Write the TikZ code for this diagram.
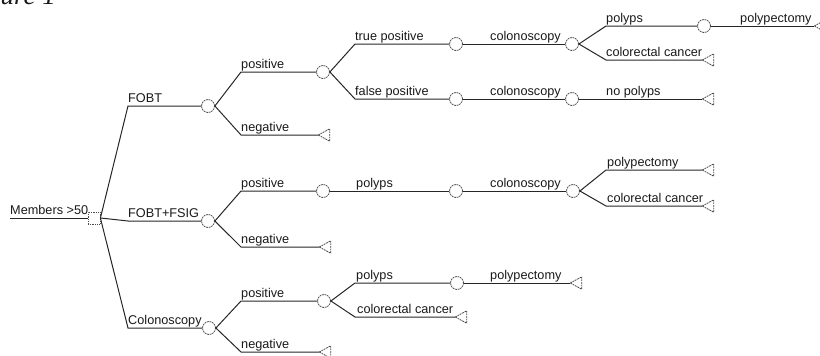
\documentclass[tikz,border=0pt]{standalone}
\usepackage{fontspec}
\setmainfont{Liberation Sans}
\newfontfamily\titlefont{Liberation Serif}
\begin{document}
\begin{tikzpicture}[x=1pt,y=-1pt,
  edge/.style={draw=black!85, line width=1pt},
  chance/.style={circle, draw=black!70, dash pattern=on 1.8pt off 0.8pt,
    line width=0.8pt, minimum size=13pt, inner sep=0pt},
  decision/.style={rectangle, draw=black!70, densely dotted,
    line width=0.8pt, minimum size=12pt, inner sep=0pt},
  terminal/.style={rectangle, minimum width=11pt, minimum height=12pt, inner sep=0pt},
  termedge/.style={draw=black!70, dash pattern=on 1.8pt off 0.8pt, line width=0.8pt},
  lab/.style={anchor=base west, inner sep=0pt,
    font=\fontsize{12.7}{14}\selectfont, text=black!90}]

\useasboundingbox (0,0) rectangle (820,356);
\clip (0,0) rectangle (820,356);

% caption fragment at the top edge
\node[anchor=base east, inner sep=0pt, text=black!90,
  font=\titlefont\itshape\fontsize{27}{30}\selectfont] (fig) at (56,5) {Figure 1};

% branch start columns
\coordinate (l1) at (128,0);
\coordinate (l2) at (241,0);
\coordinate (l3) at (355,0);
\coordinate (l5) at (606,0);

% root and decision
\coordinate (r0) at (10,218);
\node[decision] (d0) at (94,218) {};

% strategies
\node[chance] (c1) at (208,106) {};
\node[chance] (c2) at (208,221) {};
\node[chance] (c3) at (209,328) {};

% test results
\node[chance] (p1) at (323,72) {};
\node[terminal] (n1) at (324,135) {};
\node[chance] (p2) at (323,191) {};
\node[terminal] (n2) at (325,247) {};
\node[chance] (p3) at (324,301) {};
\node[terminal] (n3) at (325,352) {};

% third level
\node[chance] (tp) at (456,44) {};
\node[chance] (fp) at (456,99) {};
\node[chance] (po2) at (456,191) {};
\node[chance] (po3) at (457,283) {};
\node[terminal] (cc3) at (461,317) {};

% fourth level
\node[chance] (co1) at (572,44) {};
\node[chance] (co2) at (572,99) {};
\node[chance] (co3) at (573,191) {};
\node[terminal] (pp3) at (576,283) {};

% fifth level
\node[chance] (pol5) at (704,26) {};
\node[terminal] (cc1) at (708,60) {};
\node[terminal] (np) at (708,99) {};
\node[terminal] (pp2) at (708,170) {};
\node[terminal] (cc2) at (708,206) {};

% sixth level
\node[terminal] (pp1) at (820,26) {};

% terminal triangles
\foreach \t in {n1,n2,n3,cc3,pp3,cc1,np,pp2,cc2,pp1}
  \draw[termedge] (\t.west) -- (\t.north east) -- (\t.south east) -- cycle;

% connectors
\draw[edge] (r0) -- (d0.west);
\draw[edge] (d0.east) -- (c1.west -| l1) -- (c1.west);
\draw[edge] (d0.east) -- (c2.west -| l1) -- (c2.west);
\draw[edge] (d0.east) -- (c3.west -| l1) -- (c3.west);

\draw[edge] (c1.east) -- (p1.west -| l2) -- (p1.west);
\draw[edge] (c1.east) -- (n1.west -| l2) -- (n1.west);
\draw[edge] (c2.east) -- (p2.west -| l2) -- (p2.west);
\draw[edge] (c2.east) -- (n2.west -| l2) -- (n2.west);
\draw[edge] (c3.east) -- (p3.west -| l2) -- (p3.west);
\draw[edge] (c3.east) -- (n3.west -| l2) -- (n3.west);

\draw[edge] (p1.east) -- (tp.west -| l3) -- (tp.west);
\draw[edge] (p1.east) -- (fp.west -| l3) -- (fp.west);
\draw[edge] (p2.east) -- (po2.west);
\draw[edge] (p3.east) -- (po3.west -| l3) -- (po3.west);
\draw[edge] (p3.east) -- (cc3.west -| l3) -- (cc3.west);

\draw[edge] (tp.east) -- (co1.west);
\draw[edge] (fp.east) -- (co2.west);
\draw[edge] (po2.east) -- (co3.west);
\draw[edge] (po3.east) -- (pp3.west);

\draw[edge] (co1.east) -- (pol5.west -| l5) -- (pol5.west);
\draw[edge] (co1.east) -- (cc1.west -| l5) -- (cc1.west);
\draw[edge] (co2.east) -- (np.west);
\draw[edge] (co3.east) -- (pp2.west -| l5) -- (pp2.west);
\draw[edge] (co3.east) -- (cc2.west -| l5) -- (cc2.west);

\draw[edge] (pol5.east) -- (pp1.west);

% labels (baseline just above each branch line)
\node[lab] (tr0) at (10,214.5) {Members >50};
\node[lab] (tc1) at (128,102.5) {FOBT};
\node[lab] (tc2) at (128,217.5) {FOBT+FSIG};
\node[lab] (tc3) at (128,324.5) {Colonoscopy};

\node[lab] (tp1) at (241,68.5) {positive};
\node[lab] (tn1) at (241,131.5) {negative};
\node[lab] (tp2) at (241,187.5) {positive};
\node[lab] (tn2) at (241,243.5) {negative};
\node[lab] (tp3) at (241,297.5) {positive};
\node[lab] (tn3) at (241,348.5) {negative};

\node[lab] (ttp) at (355,40.5) {true positive};
\node[lab] (tfp) at (355,95.5) {false positive};
\node[lab] (tpo2) at (356,187.5) {polyps};
\node[lab] (tpo3) at (356,279.5) {polyps};
\node[lab] (tcc3) at (357,313.5) {colorectal cancer};

\node[lab] (tco1) at (490,40.5) {colonoscopy};
\node[lab] (tco2) at (490,95.5) {colonoscopy};
\node[lab] (tco3) at (490,187.5) {colonoscopy};
\node[lab] (tpp3) at (490,279.5) {polypectomy};

\node[lab] (tpol5) at (606,22.5) {polyps};
\node[lab] (tcc1) at (606,56.5) {colorectal cancer};
\node[lab] (tnp) at (606,95.5) {no polyps};
\node[lab] (tpp2) at (607,166.5) {polypectomy};
\node[lab] (tcc2) at (607,202.5) {colorectal cancer};

\node[lab] (tpp1) at (740,22.5) {polypectomy};
\end{tikzpicture}
\end{document}
